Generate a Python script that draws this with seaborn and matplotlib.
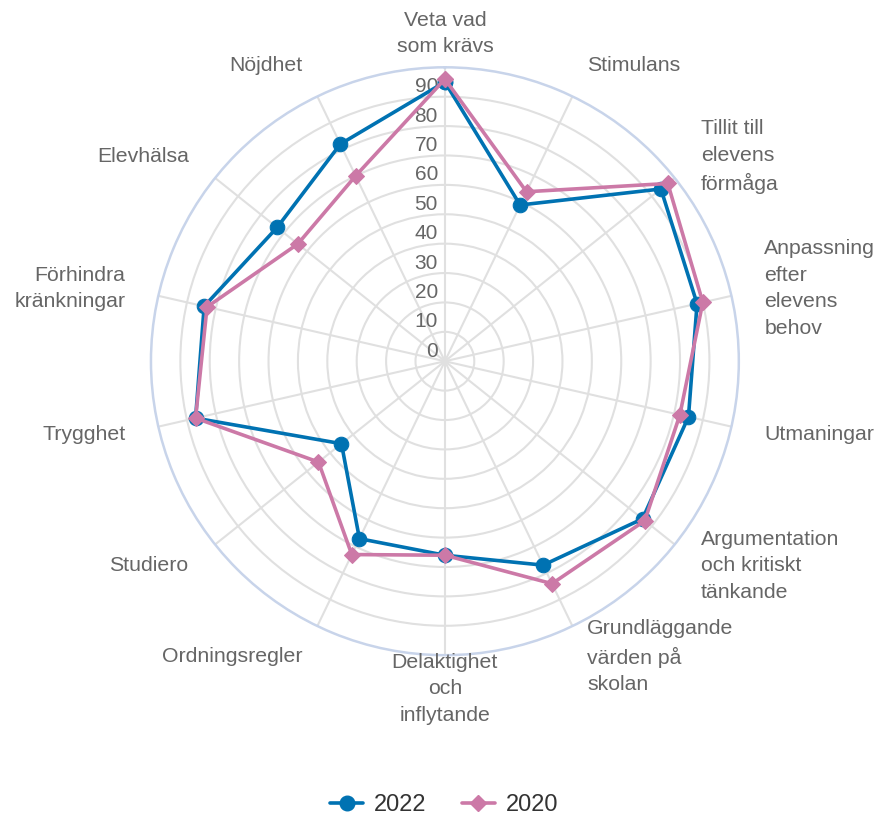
import numpy as np
import pandas as pd
import matplotlib
matplotlib.use('Agg')
import matplotlib.pyplot as plt
import matplotlib.transforms as mtransforms
from matplotlib.lines import Line2D
import seaborn as sns

categories = ['Veta vad\nsom krävs', 'Stimulans', 'Tillit till\nelevens\nförmåga',
              'Anpassning\nefter\nelevens\nbehov', 'Utmaningar',
              'Argumentation\noch kritiskt\ntänkande', 'Grundläggande\nvärden på\nskolan',
              'Delaktighet\noch\ninflytande', 'Ordningsregler', 'Studiero', 'Trygghet',
              'Förhindra\nkränkningar', 'Elevhälsa', 'Nöjdhet']
values_2022 = [95, 59, 94, 88, 85, 86, 77, 66, 67, 45, 87, 84, 73, 82]
values_2020 = [96, 64, 97, 90, 82, 87, 84, 66, 73, 55, 87, 83, 64, 70]
ticks = [0, 10, 20, 30, 40, 50, 60, 70, 80, 90]

c_2022 = '#0072B2'
c_2020 = '#CC79A7'
grey_text = '#666666'

sns.set_theme(style='white')
plt.rcParams['font.family'] = ['Liberation Sans', 'DejaVu Sans']

n = len(categories)
theta = np.linspace(0, 2 * np.pi, n, endpoint=False)

rows = []
for year, vals in [('2022', values_2022), ('2020', values_2020)]:
    for i, v in enumerate(vals + [vals[0]]):
        rows.append({'year': year, 'theta': (theta.tolist() + [2 * np.pi])[i], 'value': v, 'order': i})
df = pd.DataFrame(rows)

fig = plt.figure(figsize=(8.88, 8.17), dpi=100)
ax = fig.add_axes([0.170, 0.198, 0.662, 0.7197], projection='polar')
ax.set_theta_zero_location('N')
ax.set_theta_direction(-1)
ax.set_ylim(0, 100)

# grid
ax.set_yticks(list(range(10, 100, 10)))
ax.set_yticklabels([])
ax.set_xticks(theta)
ax.set_xticklabels([])
ax.grid(True, color='#e0e0e0', linewidth=1.5)
ax.spines['polar'].set_color('#c8d4ea')
ax.spines['polar'].set_linewidth(1.8)

# value labels along the top spoke
off = mtransforms.offset_copy(ax.transData, fig=fig, x=-7, y=10, units='dots')
for t in ticks:
    ax.text(0, t, str(t), transform=off, ha='right', va='center',
            fontsize=15, color=grey_text, zorder=1.5)

sns.lineplot(data=df[df.year == '2022'], x='theta', y='value', sort=False, estimator=None,
             color=c_2022, linewidth=2.6, marker='o', markersize=10.5,
             markeredgecolor=c_2022, ax=ax, zorder=3)
sns.lineplot(data=df[df.year == '2020'], x='theta', y='value', sort=False, estimator=None,
             color=c_2020, linewidth=2.6, marker='D', markersize=8,
             markeredgecolor=c_2020, ax=ax, zorder=4)
ax.set_xlabel('')
ax.set_ylabel('')

# category labels
r_lab = 111.5
for ang, lab in zip(theta, categories):
    s = np.sin(ang)
    ha = 'left' if s > 0.1 else ('right' if s < -0.1 else 'center')
    ax.text(ang, r_lab, lab, ha=ha, va='center', fontsize=15.3, color=grey_text,
            linespacing=1.5, multialignment=ha)

handles = [Line2D([], [], color=c_2022, lw=2.6, marker='o', markersize=10.5),
           Line2D([], [], color=c_2020, lw=2.6, marker='D', markersize=8)]
leg = fig.legend(handles, ['2022', '2020'], loc='center', bbox_to_anchor=(0.5, 1 - 805 / 817),
                 ncol=2, frameon=False, fontsize=17, handlelength=1.4,
                 handletextpad=0.45, columnspacing=1.5)
for t in leg.get_texts():
    t.set_color('#333333')

fig.savefig('out.png', dpi=100)
